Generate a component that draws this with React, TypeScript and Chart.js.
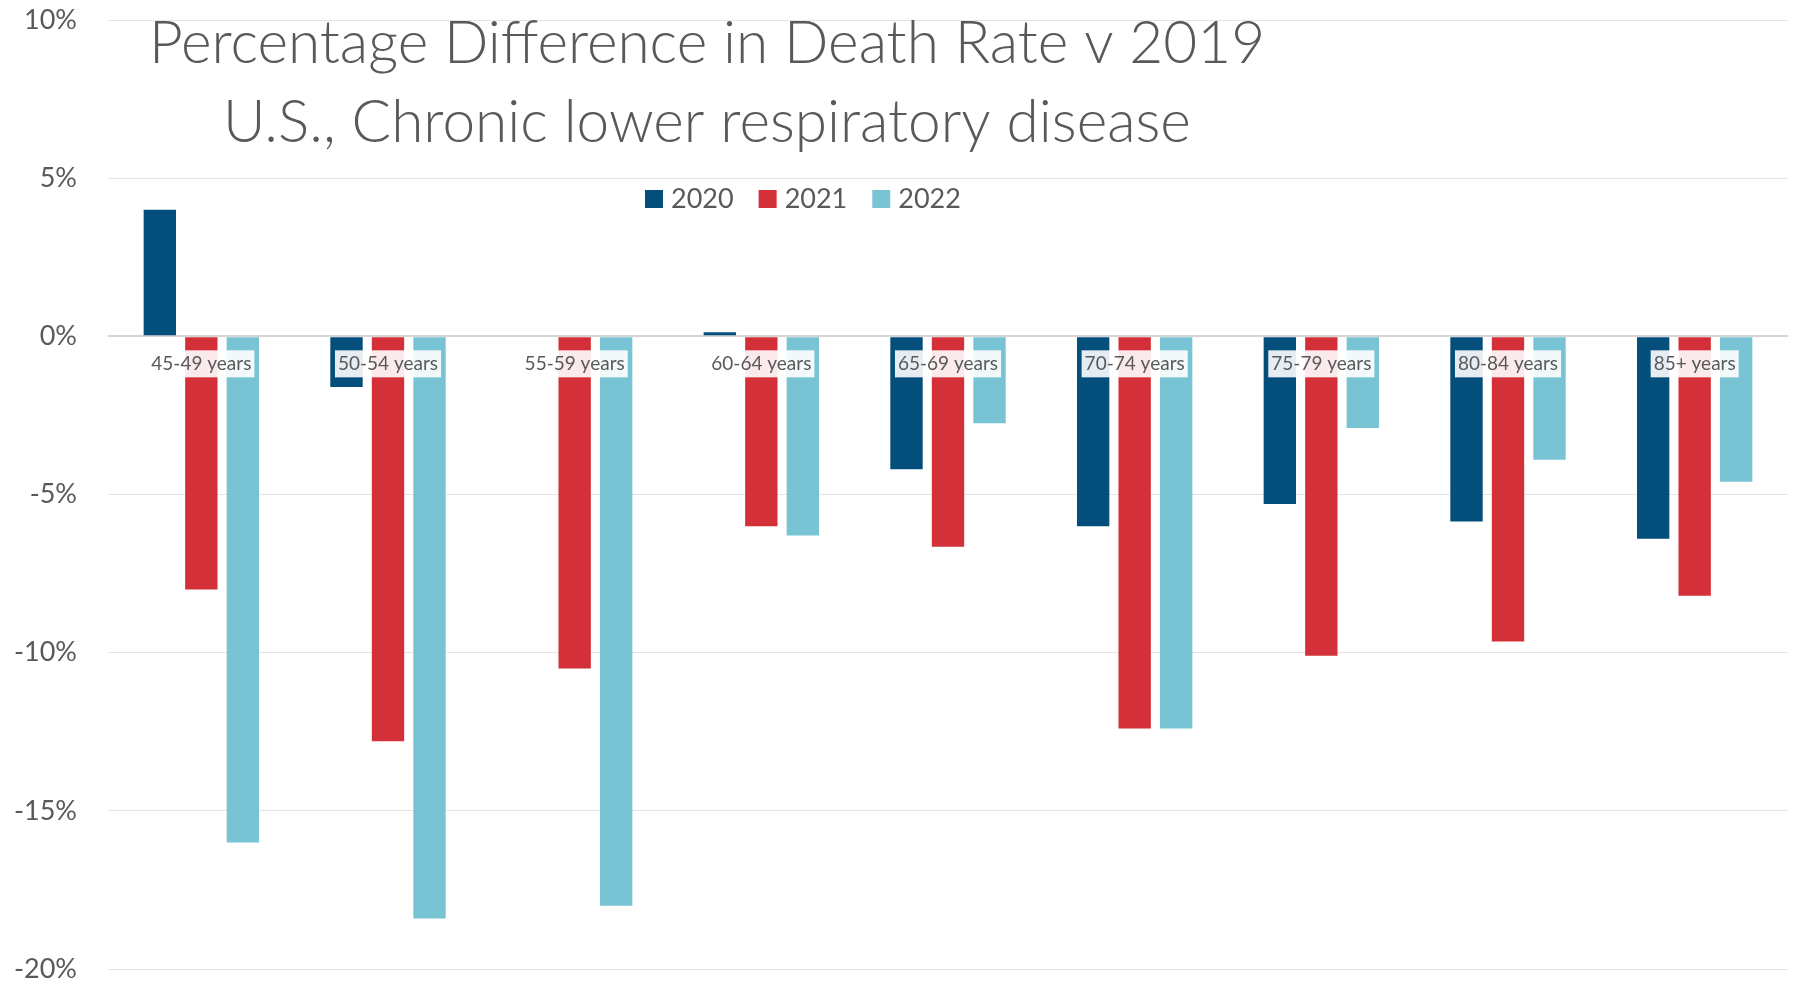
import React, { useEffect, useRef } from "react";
import { Chart, registerables } from "chart.js";

Chart.register(...registerables);

const categories = [
  "45-49 years",
  "50-54 years",
  "55-59 years",
  "60-64 years",
  "65-69 years",
  "70-74 years",
  "75-79 years",
  "80-84 years",
  "85+ years",
];
const seriesNames = ["2020", "2021", "2022"];
const values2020 = [4.0, -1.6, 0, 0.13, -4.2, -6.0, -5.3, -5.85, -6.4];
const values2021 = [-8.0, -12.8, -10.5, -6.0, -6.65, -12.4, -10.1, -9.65, -8.2];
const values2022 = [-16.0, -18.4, -18.0, -6.3, -2.75, -12.4, -2.9, -3.9, -4.6];
const seriesColors = ["#044e7c", "#d3303a", "#79c4d4"];
const yMin = -20;
const yMax = 10;
const yStep = 5;
const titleLines = [
  "Percentage Difference in Death Rate v 2019",
  "U.S., Chronic lower respiratory disease",
];

const FONT = "Lato, 'Open Sans', sans-serif";
const TEXT_COLOR = "#595959";

const overlayPlugin = {
  id: "overlay",
  afterDatasetsDraw(chart: any) {
    const { ctx, scales } = chart;
    const x = scales.x;
    const y = scales.y;
    const zeroY = y.getPixelForValue(0);
    ctx.save();
    ctx.font = `19px ${FONT}`;
    ctx.textAlign = "center";
    ctx.textBaseline = "middle";
    chart.data.labels.forEach((lab: string, i: number) => {
      const cx = x.getPixelForValue(i);
      const cy = zeroY + 27;
      const w = ctx.measureText(lab).width;
      ctx.fillStyle = "rgba(255,255,255,0.9)";
      ctx.fillRect(cx - w / 2 - 3, cy - 13, w + 6, 27);
      ctx.fillStyle = TEXT_COLOR;
      ctx.fillText(lab, cx, cy + 1);
    });
    ctx.restore();
  },
  afterDraw(chart: any) {
    const { ctx } = chart;
    ctx.save();
    // Title
    ctx.fillStyle = TEXT_COLOR;
    ctx.font = `300 58.5px ${FONT}`;
    ctx.textAlign = "center";
    ctx.textBaseline = "alphabetic";
    ctx.fillText(titleLines[0], 707, 63);
    ctx.fillText(titleLines[1], 707, 142);
    // Legend
    ctx.font = `27px ${FONT}`;
    ctx.textAlign = "left";
    let lx = 645;
    const ly = 199;
    chart.data.datasets.forEach((ds: any) => {
      ctx.fillStyle = ds.backgroundColor;
      ctx.fillRect(lx, ly - 9, 18, 18);
      ctx.fillStyle = TEXT_COLOR;
      ctx.textBaseline = "alphabetic";
      ctx.fillText(ds.label, lx + 26, ly + 9);
      const tw = ctx.measureText(ds.label).width;
      lx += 26 + tw + 25;
    });
    ctx.restore();
  },
};

export default function App() {
  const canvasRef = useRef<HTMLCanvasElement | null>(null);

  useEffect(() => {
    if (!canvasRef.current) return;
    const seriesValues = [values2020, values2021, values2022];
    const chart = new Chart(canvasRef.current, {
      type: "bar",
      data: {
        labels: categories,
        datasets: seriesNames.map((name, i) => ({
          label: name,
          data: seriesValues[i],
          backgroundColor: seriesColors[i],
          borderWidth: 0,
          barPercentage: 0.78,
          categoryPercentage: 0.667,
        })),
      },
      options: {
        animation: false,
        responsive: true,
        maintainAspectRatio: false,
        layout: { padding: { left: 0, right: 16, top: 20, bottom: 15 } },
        plugins: {
          legend: { display: false },
          title: { display: false },
          tooltip: { enabled: false },
        },
        scales: {
          x: { display: false },
          y: {
            z: 1,
            min: yMin,
            max: yMax,
            border: { display: false },
            grid: {
              drawTicks: false,
              color: (c: any) => (c.tick && c.tick.value === 0 ? "#d4d4d4" : "#e4e4e4"),
              lineWidth: (c: any) => (c.tick && c.tick.value === 0 ? 2 : 1),
            },
            ticks: {
              stepSize: yStep,
              padding: 31,
              color: TEXT_COLOR,
              font: { family: FONT, size: 27, lineHeight: 1 },
              callback: (v: any) => `${v}%`,
            },
            afterFit: (scale: any) => {
              scale.width = 108;
              scale.paddingTop = 0;
              scale.paddingBottom = 0;
            },
          },
        },
      },
      plugins: [overlayPlugin],
    });
    if ((document as any).fonts && (document as any).fonts.ready) {
      (document as any).fonts.ready.then(() => chart.update());
    }
    return () => chart.destroy();
  }, []);

  return (
    <div
      style={{
        position: "fixed",
        left: 0,
        top: 0,
        width: 1804,
        height: 984,
        background: "#fff",
      }}
    >
      <canvas ref={canvasRef} />
    </div>
  );
}
